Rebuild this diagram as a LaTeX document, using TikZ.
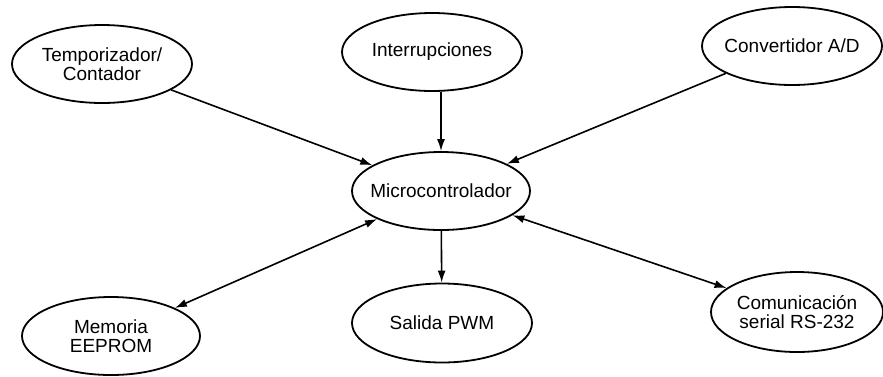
\documentclass[tikz,border=0pt]{standalone}
\usepackage{fontspec}
\setmainfont{Liberation Sans}
\usetikzlibrary{shapes.geometric,arrows.meta}
\begin{document}
\begin{tikzpicture}[x=1pt,y=-1pt,
  bubble/.style={draw,ellipse,line width=1.8pt,inner sep=-15pt,minimum width=180pt,minimum height=78pt,align=center,font=\fontsize{19}{19}\selectfont},
  arr/.style={line width=1.6pt,-{Latex[length=12pt,width=8pt]}},
  darr/.style={line width=1.6pt,{Latex[length=12pt,width=8pt]}-{Latex[length=12pt,width=8pt]}}]
\useasboundingbox (0,0) rectangle (883,376);
\node[bubble] (temp) at (102,64) {Temporizador/\\Contador};
\node[bubble] (intr) at (432,52) {Interrupciones};
\node[bubble] (conv) at (792,46) {Convertidor A/D};
\node[bubble,minimum width=178pt] (micro) at (441,191) {Microcontrolador};
\node[bubble,minimum width=178pt] (mem) at (111,336) {Memoria\\EEPROM};
\node[bubble,minimum height=79pt] (pwm) at (442,323) {Salida PWM};
\node[bubble,minimum width=172pt,minimum height=80pt] (com) at (797,312) {Comunicación\\serial RS-232};
\draw[arr] (temp) -- (micro);
\draw[arr] (micro.north |- intr.south) -- (micro.north);
\draw[arr] (conv) -- (micro);
\draw[darr] (mem) -- (micro);
\draw[arr] (micro) -- (pwm);
\draw[darr] (micro) -- (com);
\end{tikzpicture}
\end{document}
